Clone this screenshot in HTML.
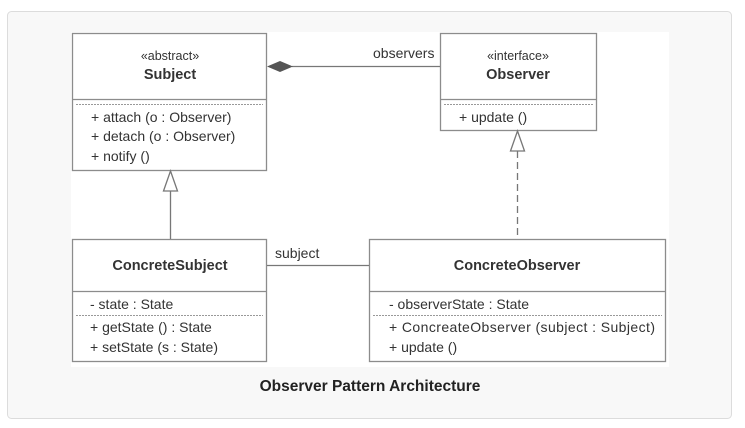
<!DOCTYPE html>
<html><head><meta charset="utf-8"><style>
html,body{margin:0;padding:0;background:#fff;}
body{width:745px;height:428px;overflow:hidden;position:relative;font-family:"Liberation Sans",sans-serif;}
</style></head><body>
<svg width="745" height="428" xmlns="http://www.w3.org/2000/svg" style="position:absolute;left:0;top:0" font-family="Liberation Sans, sans-serif">
<rect x="7.5" y="11.5" width="724" height="407" rx="4" fill="#f8f8f8" stroke="#dcdcdc"/>
<rect x="71" y="32" width="598" height="335" fill="#fff"/>
<g stroke="#8c8c8c" stroke-width="1.3" fill="#fff">
<rect x="72.5" y="33.5" width="194" height="137"/>
<line x1="72.5" y1="99.5" x2="266.5" y2="99.5"/>
<rect x="440.5" y="33.5" width="156" height="97"/>
<line x1="440.5" y1="99.5" x2="596.5" y2="99.5"/>
<rect x="72.5" y="239.5" width="194" height="122"/>
<line x1="72.5" y1="291.5" x2="266.5" y2="291.5"/>
<rect x="369.5" y="239.5" width="296" height="122"/>
<line x1="369.5" y1="291.5" x2="665.5" y2="291.5"/>
</g>
<g stroke="#999" stroke-width="1" stroke-dasharray="2,1">
<line x1="76" y1="104.5" x2="263" y2="104.5"/>
<line x1="444" y1="104.5" x2="593" y2="104.5"/>
<line x1="76" y1="315.5" x2="263" y2="315.5"/>
<line x1="373" y1="315.5" x2="662" y2="315.5"/>
</g>
<g stroke="#777" stroke-width="1.3" fill="none">
<line x1="170.5" y1="191" x2="170.5" y2="239"/>
<polygon points="170.5,171 163.5,191 177.5,191" fill="#fff"/>
<line x1="517.5" y1="151" x2="517.5" y2="239" stroke-dasharray="7,4"/>
<polygon points="517.5,131 510.5,151 524.5,151" fill="#fff"/>
<line x1="292" y1="66.5" x2="440" y2="66.5"/>
<line x1="267" y1="265.5" x2="369" y2="265.5"/>
</g>
<polygon points="267,66.5 280,61 293,66.5 280,72" fill="#555"/>
<g fill="#333" font-size="14">
<text x="170" y="60" text-anchor="middle" font-size="12.5">«abstract»</text>
<text x="170" y="79" text-anchor="middle" font-weight="bold" font-size="14.5">Subject</text>
<text x="91" y="122">+ attach (o : Observer)</text>
<text x="91" y="141">+ detach (o : Observer)</text>
<text x="91" y="161">+ notify ()</text>
<text x="518" y="60" text-anchor="middle" font-size="12.5">«interface»</text>
<text x="518" y="79" text-anchor="middle" font-weight="bold" font-size="14.5">Observer</text>
<text x="459" y="122">+ update ()</text>
<text x="170" y="270" text-anchor="middle" font-weight="bold" font-size="14.5">ConcreteSubject</text>
<text x="90" y="309">- state : State</text>
<text x="90" y="332">+ getState () : State</text>
<text x="90" y="352">+ setState (s : State)</text>
<text x="517" y="270" text-anchor="middle" font-weight="bold" font-size="14.5">ConcreteObserver</text>
<text x="389" y="309">- observerState : State</text>
<text x="389" y="332" textLength="266">+ ConcreateObserver (subject : Subject)</text>
<text x="389" y="352">+ update ()</text>
<text x="373" y="58">observers</text>
<text x="275" y="258">subject</text>
<text x="370" y="391" text-anchor="middle" font-weight="bold" font-size="15.5" fill="#222">Observer Pattern Architecture</text>
</g>
</svg>
</body></html>
